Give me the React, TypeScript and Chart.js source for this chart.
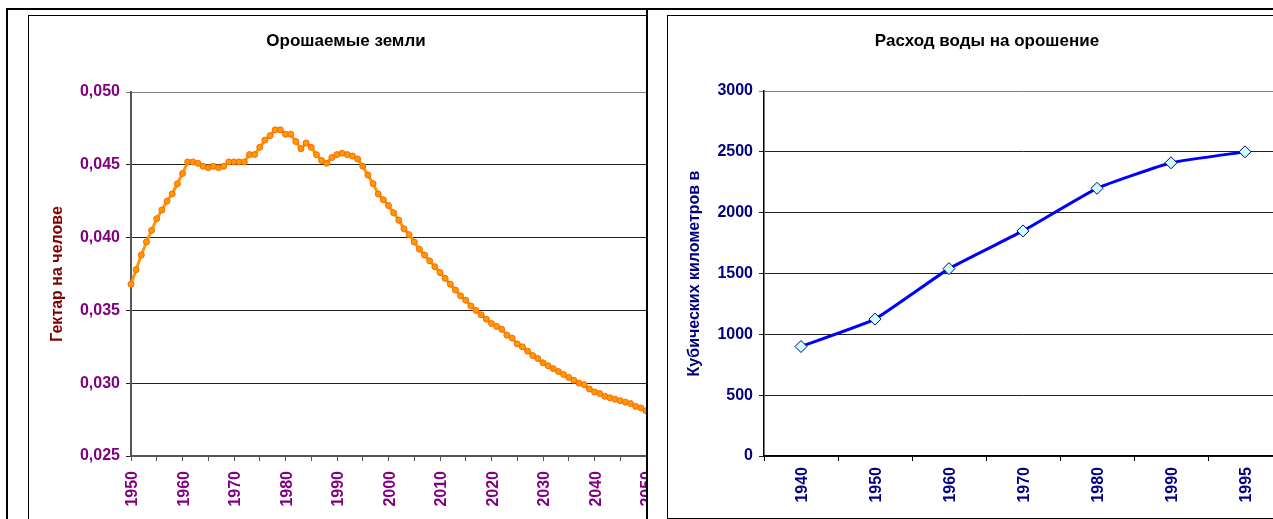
import React, { useEffect, useRef } from 'react';
import { Chart, registerables } from 'chart.js';

Chart.register(...registerables);

const FONT = "'Liberation Sans', Arial, sans-serif";

// ---- Left chart: irrigated land, hectares per person ----
const landTitle = 'Орошаемые земли';
const landAxisTitle = 'Гектар на челове';
const landStartYear = 1950;
const landValues = [
  0.0368, 0.0378, 0.0388, 0.0397, 0.0405, 0.0413, 0.0419, 0.0425, 0.0430, 0.0437,
  0.0444, 0.0452, 0.0452, 0.0451, 0.0449, 0.0448, 0.0449, 0.0448, 0.0449, 0.0452,
  0.0452, 0.0452, 0.0452, 0.0457, 0.0457, 0.0462, 0.0467, 0.0470, 0.0474, 0.0474,
  0.0471, 0.0471, 0.0466, 0.0461, 0.0465, 0.0462, 0.0457, 0.0453, 0.0451, 0.0455,
  0.0457, 0.0458, 0.0457, 0.0456, 0.0454, 0.0449, 0.0443, 0.0437, 0.0430, 0.0426,
  0.0422, 0.0417, 0.0412, 0.0406, 0.0402, 0.0397, 0.0392, 0.0388, 0.0384, 0.0380,
  0.0376, 0.0372, 0.0368, 0.0364, 0.0360, 0.0357, 0.0353, 0.0350, 0.0347, 0.0344,
  0.0341, 0.0339, 0.0337, 0.0333, 0.0331, 0.0327, 0.0325, 0.0322, 0.0319, 0.0317,
  0.0314, 0.0312, 0.0310, 0.0308, 0.0306, 0.0304, 0.0302, 0.0300, 0.0299, 0.0296,
  0.0294, 0.0293, 0.0291, 0.0290, 0.0289, 0.0288, 0.0287, 0.0286, 0.0284, 0.0283,
  0.0281,
];
const landYears = landValues.map((_, i) => landStartYear + i);
const landYMin = 0.025;
const landYMax = 0.05;
const landYStep = 0.005;

// ---- Right chart: water use for irrigation ----
const waterTitle = 'Расход воды на орошение';
const waterAxisTitle = 'Кубических километров в';
const waterYears = ['1940', '1950', '1960', '1970', '1980', '1990', '1995'];
const waterValues = [900, 1125, 1540, 1850, 2200, 2410, 2500];
const waterYMin = 0;
const waterYMax = 3000;
const waterYStep = 500;

function ChartCanvas({ config, width, height }: { config: any; width: number; height: number }) {
  const ref = useRef<HTMLCanvasElement>(null);
  useEffect(() => {
    const chart = new Chart(ref.current as HTMLCanvasElement, config);
    return () => chart.destroy();
  }, []);
  return <canvas ref={ref} width={width} height={height} style={{ display: 'block', width, height }} />;
}

const tickFont = { family: FONT, size: 16, weight: 'bold' as const };
const titleFont = { family: FONT, size: 17, weight: 'bold' as const };

const landConfig = {
  type: 'line',
  data: {
    datasets: [
      {
        data: landYears.map((x, i) => ({ x, y: landValues[i] })),
        borderColor: '#FF9900',
        borderWidth: 3,
        pointRadius: 3,
        pointBackgroundColor: '#FF9900',
        pointBorderColor: '#FF6600',
        pointBorderWidth: 1,
        tension: 0,
        clip: false,
      },
    ],
  },
  options: {
    animation: false,
    responsive: false,
    maintainAspectRatio: false,
    layout: { padding: { left: 17, right: 30, top: 0, bottom: 0 } },
    plugins: {
      legend: { display: false },
      tooltip: { enabled: false },
      title: {
        display: true,
        text: landTitle,
        color: '#000',
        font: titleFont,
        padding: { top: 14.8, bottom: 40.8 },
      },
    },
    scales: {
      x: {
        type: 'linear',
        min: 1950,
        max: 2050,
        ticks: {
          stepSize: 5,
          autoSkip: false,
          minRotation: 90,
          maxRotation: 90,
          color: '#800080',
          font: tickFont,
          padding: 10,
          labelOffset: 2,
          callback: (v: number) => (v % 10 === 0 ? String(v) : ''),
        },
        grid: { drawOnChartArea: false, color: '#555', tickLength: 5 },
        border: { color: '#555', width: 2 },
        afterFit: (s: any) => {
          s.height = 63;
        },
      },
      y: {
        min: landYMin,
        max: landYMax,
        ticks: {
          stepSize: landYStep,
          color: '#800080',
          font: tickFont,
          padding: 6,
          callback: (v: number) => v.toFixed(3).replace('.', ','),
        },
        grid: {
          color: (c: any) => (c.index === 5 ? '#808080' : '#222'),
          tickLength: 5,
        },
        border: { color: '#555', width: 2 },
        title: {
          display: true,
          text: landAxisTitle,
          color: '#800000',
          font: { family: FONT, size: 16, weight: 'bold' },
          padding: { top: 1.5, bottom: 0 },
        },
        afterFit: (s: any) => {
          s.width = 85;
        },
      },
    },
  },
};

const waterConfig = {
  type: 'line',
  data: {
    labels: waterYears,
    datasets: [
      {
        data: waterValues,
        borderColor: '#0000FF',
        borderWidth: 3,
        tension: 0.12,
        pointStyle: 'rectRot',
        pointRadius: 6,
        pointBackgroundColor: '#CCFFFF',
        pointBorderColor: '#000080',
        pointBorderWidth: 1,
      },
    ],
  },
  options: {
    animation: false,
    responsive: false,
    maintainAspectRatio: false,
    layout: { padding: { left: 24, right: 30, top: 0, bottom: 0 } },
    plugins: {
      legend: { display: false },
      tooltip: { enabled: false },
      title: {
        display: true,
        text: waterTitle,
        color: '#000',
        font: titleFont,
        padding: { top: 14.8, bottom: 39.8 },
      },
    },
    scales: {
      x: {
        type: 'category',
        offset: true,
        ticks: {
          autoSkip: false,
          minRotation: 90,
          maxRotation: 90,
          color: '#000080',
          font: tickFont,
          padding: 6,
          labelOffset: 2,
        },
        grid: { offset: true, drawOnChartArea: false, color: '#000', tickLength: 5 },
        border: { color: '#000', width: 1.5 },
        afterFit: (s: any) => {
          s.height = 62;
        },
      },
      y: {
        min: waterYMin,
        max: waterYMax,
        ticks: {
          stepSize: waterYStep,
          color: '#000080',
          font: tickFont,
          padding: 6,
          callback: (v: number) => String(v),
        },
        grid: {
          color: (c: any) => (c.index === 6 ? '#808080' : '#222'),
          tickLength: 5,
        },
        border: { color: '#000', width: 1.5 },
        title: {
          display: true,
          text: waterAxisTitle,
          color: '#000080',
          font: { family: FONT, size: 16, weight: 'bold' },
          padding: { top: -7, bottom: 0 },
        },
        afterFit: (s: any) => {
          s.width = 72;
        },
      },
    },
  },
};

export default function App() {
  Chart.defaults.font.family = FONT;
  return (
    <div
      style={{
        position: 'fixed',
        left: 0,
        top: 0,
        width: 1273,
        height: 519,
        overflow: 'hidden',
        background: '#fff',
      }}
    >
      <div
        style={{
          position: 'absolute',
          left: 28,
          top: 15,
          width: 618,
          height: 504,
          borderLeft: '1px solid #000',
          borderTop: '1px solid #000',
          boxSizing: 'border-box',
          overflow: 'hidden',
        }}
      >
        <ChartCanvas config={landConfig} width={647} height={503} />
      </div>
      <div
        style={{
          position: 'absolute',
          left: 667,
          top: 15,
          width: 606,
          height: 504,
          borderLeft: '1px solid #000',
          borderTop: '1px solid #000',
          borderBottom: '1px solid #000',
          boxSizing: 'border-box',
          overflow: 'hidden',
        }}
      >
        <ChartCanvas config={waterConfig} width={644} height={502} />
      </div>
      <div style={{ position: 'absolute', left: 6, top: 8, width: 1267, height: 2, background: '#000' }} />
      <div style={{ position: 'absolute', left: 6, top: 8, width: 2, height: 511, background: '#000' }} />
      <div style={{ position: 'absolute', left: 646, top: 8, width: 2, height: 511, background: '#000' }} />
    </div>
  );
}
